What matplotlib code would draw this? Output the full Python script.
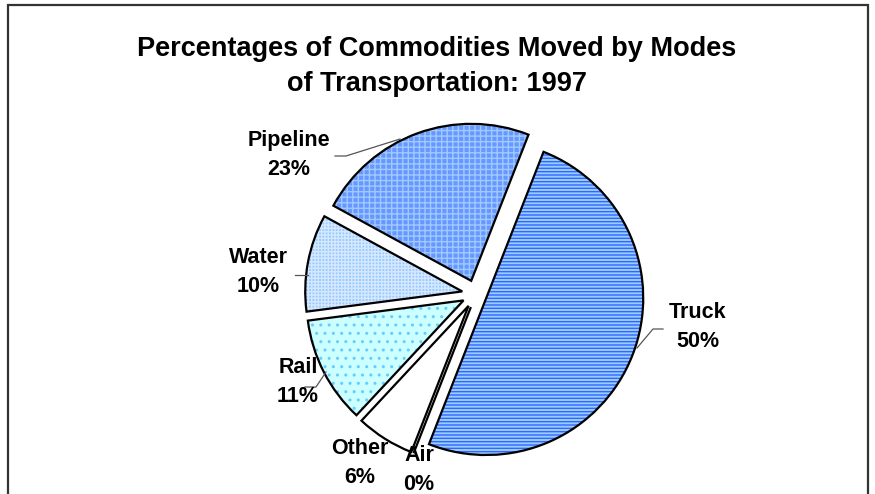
import matplotlib
matplotlib.use("Agg")
import matplotlib.pyplot as plt
from matplotlib.patches import Rectangle

# data
modes = ['Truck', 'Air', 'Other', 'Rail', 'Water', 'Pipeline']
shares = [50, 0, 6, 11, 10, 23]
pct_labels = ['50%', '0%', '6%', '11%', '10%', '23%']

plt.rcParams['font.family'] = ['Liberation Sans', 'DejaVu Sans']
plt.rcParams['hatch.linewidth'] = 1.0

W, H = 875, 494
fig = plt.figure(figsize=(W / 100, H / 100), dpi=100)
ax = fig.add_axes([0, 0, 1, 1])

face = ['#99CCFF', 'white', 'white', '#CCFFFF', '#99CCFF', '#6699FF']
hatch_col = ['#3366FF', 'white', 'white', '#66CCFF', '#D6E8FF', '#A3C8FF']
hatches = ['-----', '', '', '..', '+++++', '+++']
# explode offsets are in data units (pixels here)
explode = [11, 14, 14, 14, 14, 14]

cx, cy, r = 476, H - 294, 157
start = 68.6

# filled + hatched layer
wedges, _ = ax.pie(shares, explode=explode, startangle=start, counterclock=False,
                   center=(cx, cy), radius=r, frame=True,
                   wedgeprops=dict(linewidth=0))
for w, fc, hc, ht in zip(wedges, face, hatch_col, hatches):
    w.set_facecolor(fc)
    w.set_edgecolor(hc)
    w.set_hatch(ht)

# outline layer
outl, _ = ax.pie(shares, explode=explode, startangle=start, counterclock=False,
                 center=(cx, cy), radius=r, frame=True,
                 wedgeprops=dict(fill=False, edgecolor='black', linewidth=1.6))

# labels (positions in pixel coords from top-left)
lab_pos = {'Truck': (698, 327), 'Air': (419, 470), 'Other': (360, 463),
           'Rail': (298, 382), 'Water': (258, 272), 'Pipeline': (289, 155)}
leaders = {'Truck': [(663, 329), (653, 329), (637, 348)],
           'Rail': [(305, 387), (316, 387), (326, 372)],
           'Water': [(295, 275), (308, 275)],
           'Pipeline': [(335, 156), (346, 156), (400, 139)]}

for m, p in zip(modes, pct_labels):
    x, y = lab_pos[m]
    ax.text(x, H - y, m + '\n' + p, ha='center', va='center', fontsize=15.5,
            fontweight='bold', linespacing=1.55, color='black')
    if m in leaders:
        xs = [q[0] for q in leaders[m]]
        ys = [H - q[1] for q in leaders[m]]
        ax.plot(xs, ys, color='#555555', lw=0.9)

ax.text(437, H - 67, 'Percentages of Commodities Moved by Modes\nof Transportation: 1997',
        ha='center', va='center', fontsize=19.5, fontweight='bold', linespacing=1.45)

ax.add_patch(Rectangle((8, -20), 860, H - 5 + 20, fill=False, edgecolor='#333333', lw=1.6))

ax.set_xlim(0, W)
ax.set_ylim(0, H)
ax.axis('off')

fig.savefig('out.png', dpi=100)
